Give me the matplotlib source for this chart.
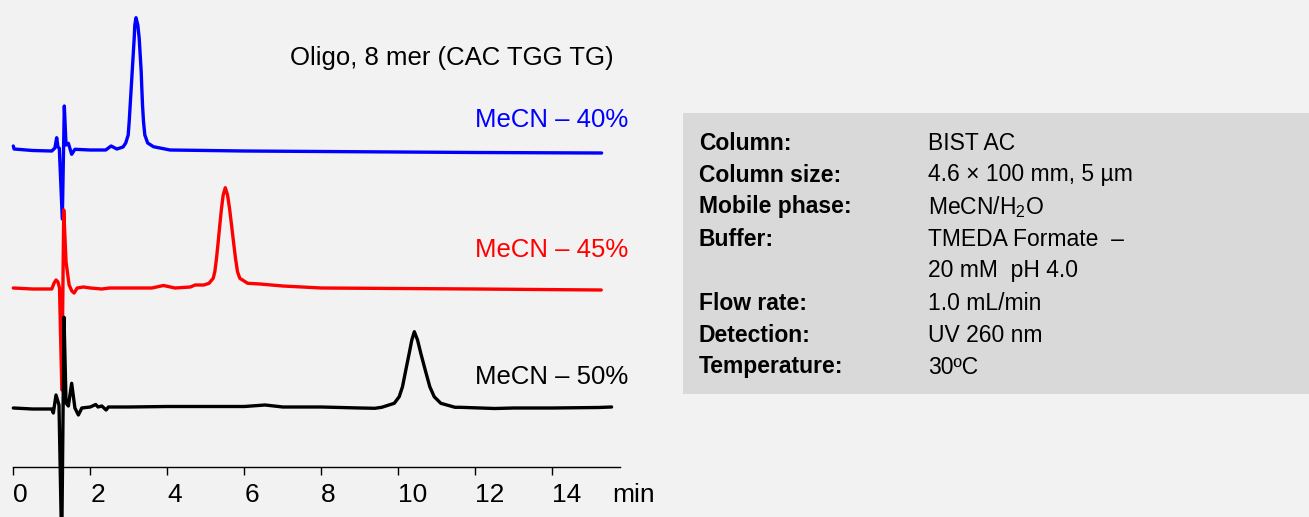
import matplotlib
matplotlib.use("Agg")
import matplotlib.pyplot as plt
from matplotlib.patches import Rectangle

plt.rcParams['font.family'] = ['Liberation Sans', 'DejaVu Sans']
plt.rcParams['mathtext.fontset'] = 'custom'
plt.rcParams['mathtext.rm'] = 'Liberation Sans'

# ---------------- data (signal relative to each trace baseline) ----------------
t_40 = [0.0, 0.02, 0.5, 1.0, 1.08, 1.127, 1.16, 1.195, 1.273, 1.325, 1.37, 1.43, 1.516,
        1.6, 2.0, 2.4, 2.54, 2.69, 2.85, 2.92, 2.984, 3.010, 3.036, 3.062, 3.088, 3.114,
        3.140, 3.156, 3.187, 3.234, 3.27, 3.296, 3.322, 3.338, 3.356, 3.382, 3.416, 3.49,
        3.64, 4.07, 6.0, 8.0, 10.0, 12.0, 15.28]
s_40 = [4, 1, -0.5, -1, 2, 12.3, 3, 1.7, -69, 44, 5, 6.7, -4.3,
        0.7, 0, 0, 4, 1, 3, 7, 15, 28.3, 45, 61.7, 78.3, 95,
        111.7, 125, 132.3, 125, 111.7, 95, 78.3, 61.7, 45, 28.3, 15, 7,
        3.3, 0, -1, -1.5, -2, -2.5, -3]

t_45 = [0.0, 0.5, 1.0, 1.06, 1.11, 1.16, 1.2, 1.26, 1.31, 1.37, 1.45, 1.52, 1.58,
        1.66, 1.82, 2.0, 2.3, 2.5, 3.0, 3.6, 3.9, 4.2, 4.6, 4.72, 4.95, 5.083, 5.192,
        5.234, 5.278, 5.322, 5.364, 5.408, 5.452, 5.506, 5.564, 5.616, 5.668, 5.719,
        5.771, 5.823, 5.883, 6.088, 6.41, 7.0, 8.0, 10.0, 12.0, 15.27]
s_45 = [0, -1, -1, 5, 8, 6, 0, -102, 78, 26, 3, -3, -5,
        0, 1, 0, -1, 0, 0, 0, 2.5, 0, 1, 3, 3, 4.7, 9.7,
        16.3, 29.7, 46.3, 63, 79.7, 93, 100.3, 93, 79.7, 63, 46.3,
        29.7, 16.3, 9.7, 4.7, 4, 2, 0, -0.5, -1, -2]

t_50 = [0.0, 0.5, 1.0, 1.04, 1.109, 1.187, 1.257, 1.317, 1.37, 1.43, 1.516, 1.6, 1.69,
        1.78, 2.0, 2.14, 2.2, 2.3, 2.41, 2.47, 3.0, 4.0, 5.0, 6.0, 6.54, 7.0, 8.0, 9.0,
        9.39, 9.569, 9.894, 10.023, 10.109, 10.195, 10.283, 10.351, 10.416, 10.499,
        10.584, 10.699, 10.818, 10.932, 11.104, 11.473, 11.6, 12.5, 13.0, 14.0, 15.2, 15.54]
s_50 = [0, -1, -1, -5, 13, 3, -140, 90.7, 5, 2, 24.7, 0, -7,
        0, 1, 3.5, 1, 2, -2, 1, 1, 1.5, 1.5, 1.5, 3, 1, 1, 0,
        -0.3, 0.7, 4.7, 11.3, 21.3, 38, 54.7, 68, 76.3, 68,
        54.7, 38, 21.3, 11.3, 4.7, 0.7, 0.7, -0.5, 0, 0, 0.5, 1]

# vertical stacking offsets of the three traces
offsets = {'40': 367, '45': 229, '50': 109}

x_ticks = [0, 2, 4, 6, 8, 10, 12, 14]

trace_labels = ['MeCN – 40%', 'MeCN – 45%', 'MeCN – 50%']
trace_colors = ['#0000ff', '#ff0000', '#000000']
title_text = 'Oligo, 8 mer (CAC TGG TG)'

info_keys = ['Column:', 'Column size:', 'Mobile phase:', 'Buffer:', '',
             'Flow rate:', 'Detection:', 'Temperature:']
info_vals = ['BIST AC', '4.6 × 100 mm, 5 µm', r'MeCN/H$_2$O', 'TMEDA Formate  –',
             '20 mM  pH 4.0', '1.0 mL/min', 'UV 260 nm', '30ºC']

# ---------------- figure ----------------
W, H = 1309, 517
bg = '#f2f2f2'
fig = plt.figure(figsize=(W / 100, H / 100), dpi=100, facecolor=bg)

ax = fig.add_axes([0, 0, 660 / W, 1])
ax.set_facecolor('none')
ax.set_xlim(-0.3455, 16.797)
ax.set_ylim(0, H)

series = [(t_40, s_40, offsets['40']), (t_45, s_45, offsets['45']), (t_50, s_50, offsets['50'])]
for (t, s, off), c in zip(series, trace_colors):
    ax.plot(t, [v + off for v in s], color=c, lw=2.4, solid_joinstyle='round',
            solid_capstyle='round')

for sp in ['top', 'right', 'left']:
    ax.spines[sp].set_visible(False)
ax.spines['bottom'].set_position(('data', 50.3))
ax.spines['bottom'].set_bounds(0, 15.76)
ax.spines['bottom'].set_linewidth(1.0)
ax.set_xticks(x_ticks)
ax.set_xticklabels([str(v) for v in x_ticks], ha='left')
ax.tick_params(axis='x', direction='out', length=6, width=1.0, labelsize=19, pad=6)
ax.set_yticks([])
ax.text(15.55, 22, 'min', fontsize=19, ha='left', va='center')

# trace labels
ax.text(15.6, 517 - 58, title_text, fontsize=18.5, ha='right', va='center', color='black')
label_y = [517 - 120, 517 - 250, 517 - 377]
for lab, c, y in zip(trace_labels, trace_colors, label_y):
    ax.text(15.97, y, lab, fontsize=18.5, ha='right', va='center', color=c)

# info box
fig.patches.append(Rectangle((683 / W, (H - 394) / H), (W - 683) / W, (394 - 113) / H,
                             transform=fig.transFigure, facecolor='#d9d9d9',
                             edgecolor='none', zorder=0))
row_y0 = 143
row_dy = 32
for i, (k, v) in enumerate(zip(info_keys, info_vals)):
    y = 1 - (row_y0 + i * row_dy) / H
    if k:
        fig.text(699 / W, y, k, fontsize=16.5, fontweight='bold', ha='left', va='center')
    fig.text(928 / W, y, v, fontsize=16.5, ha='left', va='center')

fig.savefig('out.png', dpi=100, facecolor=bg)
